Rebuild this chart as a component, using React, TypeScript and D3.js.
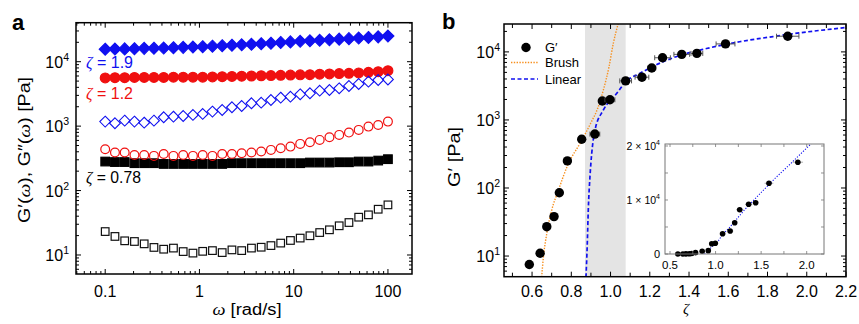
import React from 'react';
import * as d3 from 'd3';

// ---- panel a: frequency sweeps ----
const omega = [0.1, 0.1269, 0.161, 0.2043, 0.2593, 0.329, 0.4175, 0.5298, 0.6723, 0.8531, 1.0826, 1.3737, 1.7433, 2.212, 2.807, 3.562, 4.52, 5.736, 7.279, 9.236, 11.72, 14.87, 18.87, 23.95, 30.39, 38.57, 48.94, 62.1, 78.8, 100];

const gp19 = [15600, 15700, 15800, 15900, 16100, 16200, 16300, 16500, 16700, 16900, 17100, 17400, 17700, 18000, 18300, 18600, 19000, 19400, 19900, 20300, 20700, 21100, 21500, 21900, 22400, 22800, 23300, 23800, 24300, 25000];
const gpp19 = [1175, 1110, 1217, 1175, 1133, 1217, 1374, 1403, 1439, 1492, 1546, 1680, 1783, 1963, 2057, 2264, 2313, 2545, 2768, 2866, 3118, 3236, 3550, 3638, 3860, 4200, 4510, 4900, 5200, 5300];
const gp12 = [5600, 5650, 5650, 5700, 5700, 5700, 5700, 5750, 5750, 5750, 5750, 5800, 5850, 5900, 5950, 6000, 6050, 6100, 6150, 6200, 6250, 6300, 6400, 6450, 6550, 6600, 6700, 6850, 7000, 7250];
const gpp12 = [438, 389, 389, 357, 357, 345, 370, 345, 357, 345, 357, 345, 370, 370, 380, 389, 403, 428, 454, 481, 530, 562, 611, 673, 731, 794, 874, 983, 1044, 1175];
const gp078 = [282, 277, 277, 266, 266, 266, 259, 259, 259, 259, 259, 259, 259, 266, 266, 266, 266, 266, 266, 266, 266, 272, 272, 272, 275, 275, 282, 282, 292, 307];
const gpp078 = [23.1, 19.4, 16.6, 16.2, 14.9, 13.1, 12.3, 12.8, 11.3, 10.7, 11.4, 11.7, 10.9, 12.0, 11.7, 12.8, 13.2, 14.0, 15.3, 16.8, 18.3, 19.9, 22.3, 24.6, 28.4, 31.9, 38.6, 42, 51.3, 60];

const omegaTickLabels = ['0.1', '1', '10', '100'];

// ---- panel b: plateau modulus vs zeta ----
const zeta = [0.586, 0.641, 0.675, 0.712, 0.739, 0.78, 0.853, 0.92, 0.958, 0.997, 1.077, 1.16, 1.21, 1.265, 1.363, 1.44, 1.586, 1.903];
const zetaErr = [0.01, 0.01, 0.012, 0.018, 0.01, 0.01, 0.015, 0.025, 0.015, 0.025, 0.03, 0.035, 0.02, 0.04, 0.04, 0.03, 0.048, 0.057];
const gPlateau = [7.5, 11, 27, 38, 85, 250, 520, 620, 1900, 1980, 3750, 4250, 5800, 8200, 9200, 9500, 13100, 17000];

const brushZ = [0.649, 0.658, 0.675, 0.7, 0.734, 0.785, 0.844, 0.898, 0.937, 0.963, 0.992, 1.014, 1.039];
const brushG = [4.9, 9.7, 21.4, 47, 92, 228, 450, 885, 1550, 2730, 6000, 13300, 26000];
const linZ = [0.8748, 0.8814, 0.8865, 0.895, 0.904, 0.9206, 0.963, 1.031, 1.077, 1.15, 1.319, 1.489, 1.658, 1.828, 1.998, 2.2];
const linG = [4.9, 15, 47, 145, 320, 706, 1390, 2440, 3620, 4850, 8200, 11200, 14100, 16800, 19600, 22800];

const zetaTicks = ['0.6', '0.8', '1.0', '1.2', '1.4', '1.6', '1.8', '2.0', '2.2'];
const insetXTicks = ['0.5', '1.0', '1.5', '2.0'];
const band = [0.87, 1.077];

const SANS = '"Liberation Sans", Arial, sans-serif';
const SERIF = '"Liberation Serif", "DejaVu Serif", serif';
const BLUE = '#1010f0';
const RED = '#f01010';
const ORANGE = '#f7901e';
const TICK_FS = 16;

function logTicks(lo: number, hi: number) {
  const out: { v: number; major: boolean }[] = [];
  for (let d = Math.floor(Math.log10(lo)); d <= Math.ceil(Math.log10(hi)); d++) {
    for (let k = 1; k <= 9; k++) {
      const v = k * Math.pow(10, d);
      if (v >= lo && v <= hi) out.push({ v, major: k === 1 });
    }
  }
  return out;
}

const Pow10 = ({ x, y, e, size = TICK_FS }: any) => (
  <text x={x} y={y} textAnchor="end" fontSize={size} fontFamily={SANS}>
    10<tspan dy={-size * 0.42} fontSize={size * 0.66}>{e}</tspan>
  </text>
);

const diamond = (s: number) => `M0,${-s}L${s},0L0,${s}L${-s},0Z`;

const PanelA = () => {
  const L = 76, R = 412, T = 22.7, B = 274;
  const x = d3.scaleLog().domain([0.049, 180]).range([L, R]);
  const y = d3.scaleLog().domain([5.07, 40300]).range([B, T]);
  const xt = logTicks(0.049, 180);
  const yt = logTicks(5.07, 40300);

  const series = [
    { data: gpp078, kind: 'square', fill: 'none', stroke: '#111' },
    { data: gp078, kind: 'square', fill: '#000', stroke: '#000' },
    { data: gpp12, kind: 'circle', fill: 'none', stroke: RED },
    { data: gp12, kind: 'circle', fill: RED, stroke: RED },
    { data: gpp19, kind: 'diamond', fill: 'none', stroke: BLUE },
    { data: gp19, kind: 'diamond', fill: BLUE, stroke: BLUE },
  ];

  return (
    <g>
      <text x={12} y={30} fontSize={22} fontWeight="bold" fontFamily={SANS}>a</text>
      {series.map((s, si) => (
        <g key={si}>
          {s.data.map((v, i) => {
            const cx = x(omega[i]), cy = y(v);
            const open = s.fill === 'none';
            if (s.kind === 'square') {
              const h = open ? 3.8 : 4.3;
              return <rect key={i} x={cx - h} y={cy - h} width={2 * h} height={2 * h} fill={open ? '#fff' : s.fill} stroke={s.stroke} strokeWidth={1.2} />;
            }
            if (s.kind === 'circle') {
              return <circle key={i} cx={cx} cy={cy} r={open ? 4.4 : 4.9} fill={open ? 'none' : s.fill} stroke={s.stroke} strokeWidth={1.2} />;
            }
            return <path key={i} d={diamond(open ? 5.4 : 6)} transform={`translate(${cx},${cy})`} fill={open ? 'none' : s.fill} stroke={s.stroke} strokeWidth={1.1} />;
          })}
        </g>
      ))}
      {/* ticks */}
      {xt.map((t, i) => {
        const len = t.major ? 5 : 3, px = x(t.v);
        return (
          <g key={'x' + i} stroke="#000" strokeWidth={1}>
            <line x1={px} x2={px} y1={B} y2={B - len} />
            <line x1={px} x2={px} y1={T} y2={T + len} />
          </g>
        );
      })}
      {yt.map((t, i) => {
        const len = t.major ? 5 : 3, py = y(t.v);
        return (
          <g key={'y' + i} stroke="#000" strokeWidth={1}>
            <line x1={L} x2={L + len} y1={py} y2={py} />
            <line x1={R} x2={R - len} y1={py} y2={py} />
          </g>
        );
      })}
      <rect x={L} y={T} width={R - L} height={B - T} fill="none" stroke="#000" strokeWidth={1.5} />
      {omegaTickLabels.map((l) => (
        <text key={l} x={x(+l)} y={297} textAnchor="middle" fontSize={TICK_FS} fontFamily={SANS}>{l}</text>
      ))}
      {[1, 2, 3, 4].map((e) => <Pow10 key={e} x={69} y={y(Math.pow(10, e)) + 6} e={e} />)}
      <text x={247} y={315} textAnchor="middle" fontSize={16} fontFamily={SANS} textLength={69} lengthAdjust="spacingAndGlyphs">
        <tspan fontFamily={SERIF} fontStyle="italic">ω</tspan> [rad/s]
      </text>
      <text transform="translate(30,150) rotate(-90)" textAnchor="middle" fontSize={16} fontFamily={SANS} textLength={146} lengthAdjust="spacingAndGlyphs">
        G′(<tspan fontFamily={SERIF} fontStyle="italic">ω</tspan>), G″(<tspan fontFamily={SERIF} fontStyle="italic">ω</tspan>) [Pa]
      </text>
      <text x={86} y={68} fontSize={16} fontFamily={SANS} fill={BLUE} textLength={47} lengthAdjust="spacingAndGlyphs">
        <tspan fontFamily={SERIF} fontStyle="italic">ζ</tspan> = 1.9
      </text>
      <text x={86} y={99} fontSize={16} fontFamily={SANS} fill={RED} textLength={47} lengthAdjust="spacingAndGlyphs">
        <tspan fontFamily={SERIF} fontStyle="italic">ζ</tspan> = 1.2
      </text>
      <text x={86} y={183} fontSize={16} fontFamily={SANS} fill="#000" textLength={55} lengthAdjust="spacingAndGlyphs">
        <tspan fontFamily={SERIF} fontStyle="italic">ζ</tspan> = 0.78
      </text>
    </g>
  );
};

const PanelB = () => {
  const L = 504, R = 846, T = 24, B = 276.7;
  const x = d3.scaleLinear().domain([0.457, 2.2]).range([L, R]);
  const y = d3.scaleLog().domain([4.97, 25700]).range([B, T]);
  const yt = logTicks(4.97, 25700);
  const xt = d3.range(5, 23).map((k) => k / 10);

  const line = d3.line<[number, number]>().x((d) => d[0]).y((d) => d[1]).curve(d3.curveMonotoneX);
  const brushPath = line(brushZ.map((z, i) => [x(z), y(brushG[i])]));
  const linPath = line(linZ.map((z, i) => [x(z), y(linG[i])]));

  // inset
  const iL = 665, iR = 824, iT = 144, iB = 254;
  const ix = d3.scaleLinear().domain([0.445, 2.19]).range([iL, iR]);
  const iy = d3.scaleLinear().domain([0, 20370]).range([iB, iT]);
  const insetLin = d3.line<[number, number]>().x((d) => d[0]).y((d) => d[1])(
    linZ.map((z, i) => [ix(z), iy(linG[i])])
  );
  const ixt = d3.range(2, 9).map((k) => k / 4);
  const iyt = [0, 5000, 10000, 15000, 20000];

  return (
    <g>
      <defs>
        <clipPath id="clipB"><rect x={L} y={T} width={R - L} height={B - T} /></clipPath>
        <clipPath id="clipI"><rect x={iL} y={iT} width={iR - iL} height={iB - iT} /></clipPath>
      </defs>
      <text x={442} y={29} fontSize={22} fontWeight="bold" fontFamily={SANS}>b</text>
      <rect x={x(band[0])} y={T} width={x(band[1]) - x(band[0])} height={B - T} fill="#e4e4e4" />
      <g clipPath="url(#clipB)">
        <path d={brushPath || ''} fill="none" stroke={ORANGE} strokeWidth={1.4} strokeDasharray="1.4 1.4" />
        <path d={linPath || ''} fill="none" stroke={BLUE} strokeWidth={1.7} strokeDasharray="4 2.5" />
      </g>
      {zeta.map((z, i) => {
        const cy = y(gPlateau[i]);
        const x0 = x(z - zetaErr[i]), x1 = x(z + zetaErr[i]);
        return (
          <g key={i}>
            <g stroke="#555" strokeWidth={1}>
              <line x1={x0} x2={x1} y1={cy} y2={cy} />
              <line x1={x0} x2={x0} y1={cy - 2.5} y2={cy + 2.5} />
              <line x1={x1} x2={x1} y1={cy - 2.5} y2={cy + 2.5} />
            </g>
            <circle cx={x(z)} cy={cy} r={4.7} fill="#000" />
          </g>
        );
      })}
      {/* legend */}
      <circle cx={526} cy={47.5} r={4.7} fill="#000" />
      <text x={545} y={52} fontSize={13} fontFamily={SANS}>G′</text>
      <line x1={511} x2={538} y1={62.5} y2={62.5} stroke={ORANGE} strokeWidth={1.4} strokeDasharray="1.4 1.4" />
      <text x={545} y={67} fontSize={13} fontFamily={SANS}>Brush</text>
      <line x1={511} x2={538} y1={79} y2={79} stroke={BLUE} strokeWidth={1.7} strokeDasharray="4 2.5" />
      <text x={545} y={84} fontSize={13} fontFamily={SANS}>Linear</text>
      {/* axes */}
      {xt.map((v, i) => {
        const px = x(v);
        const len = Math.round(v * 10) % 2 === 0 ? 5 : 4;
        return (
          <g key={'x' + i} stroke="#000" strokeWidth={1}>
            <line x1={px} x2={px} y1={B} y2={B - len} />
            <line x1={px} x2={px} y1={T} y2={T + len} />
          </g>
        );
      })}
      {yt.map((t, i) => {
        const len = t.major ? 5 : 3, py = y(t.v);
        return (
          <g key={'y' + i} stroke="#000" strokeWidth={1}>
            <line x1={L} x2={L + len} y1={py} y2={py} />
            <line x1={R} x2={R - len} y1={py} y2={py} />
          </g>
        );
      })}
      <rect x={L} y={T} width={R - L} height={B - T} fill="none" stroke="#000" strokeWidth={1.5} />
      {zetaTicks.map((l) => (
        <text key={l} x={x(+l)} y={297} textAnchor="middle" fontSize={TICK_FS} fontFamily={SANS}>{l}</text>
      ))}
      {[1, 2, 3, 4].map((e) => <Pow10 key={e} x={500} y={y(Math.pow(10, e)) + 6} e={e} />)}
      <text x={686} y={314} textAnchor="middle" fontSize={15} fontFamily={SERIF} fontStyle="italic">ζ</text>
      <text transform="translate(460,157) rotate(-90)" textAnchor="middle" fontSize={16} fontFamily={SANS} textLength={60} lengthAdjust="spacingAndGlyphs">G′ [Pa]</text>

      {/* inset */}
      <rect x={iL} y={iT} width={iR - iL} height={iB - iT} fill="#fff" />
      <g clipPath="url(#clipI)">
        <path d={insetLin || ''} fill="none" stroke={BLUE} strokeWidth={1.1} strokeDasharray="1.2 1.6" />
      </g>
      {zeta.map((z, i) => {
        const cy = iy(gPlateau[i]);
        const x0 = ix(z - zetaErr[i]), x1 = ix(z + zetaErr[i]);
        return (
          <g key={'i' + i}>
            <line x1={x0} x2={x1} y1={cy} y2={cy} stroke="#999" strokeWidth={0.8} />
            <circle cx={ix(z)} cy={cy} r={2.8} fill="#000" />
          </g>
        );
      })}
      {ixt.map((v, i) => (
        <g key={'ix' + i} stroke="#777" strokeWidth={0.8}>
          <line x1={ix(v)} x2={ix(v)} y1={iB} y2={iB - 3} />
          <line x1={ix(v)} x2={ix(v)} y1={iT} y2={iT + 3} />
        </g>
      ))}
      {iyt.map((v, i) => (
        <g key={'iy' + i} stroke="#777" strokeWidth={0.8}>
          <line x1={iL} x2={iL + 3} y1={iy(v)} y2={iy(v)} />
          <line x1={iR} x2={iR - 3} y1={iy(v)} y2={iy(v)} />
        </g>
      ))}
      <rect x={iL} y={iT} width={iR - iL} height={iB - iT} fill="none" stroke="#777" strokeWidth={1} />
      {insetXTicks.map((l) => (
        <text key={l} x={ix(+l)} y={269} textAnchor="middle" fontSize={11.5} fontFamily={SANS}>{l}</text>
      ))}
      <text x={660} y={iy(0) + 4} textAnchor="end" fontSize={11} fontFamily={SANS}>0</text>
      {[1, 2].map((m) => (
        <text key={m} x={660} y={iy(m * 10000) + 4} textAnchor="end" fontSize={10.5} fontFamily={SANS}>
          {m} × 10<tspan dy={-4.5} fontSize={7}>4</tspan>
        </text>
      ))}
    </g>
  );
};

export default function App() {
  return (
    <div style={{ position: 'absolute', left: 0, top: 0 }}>
      <svg width={859} height={324} style={{ display: 'block', background: '#fff' }}>
        <PanelA />
        <PanelB />
      </svg>
    </div>
  );
}
